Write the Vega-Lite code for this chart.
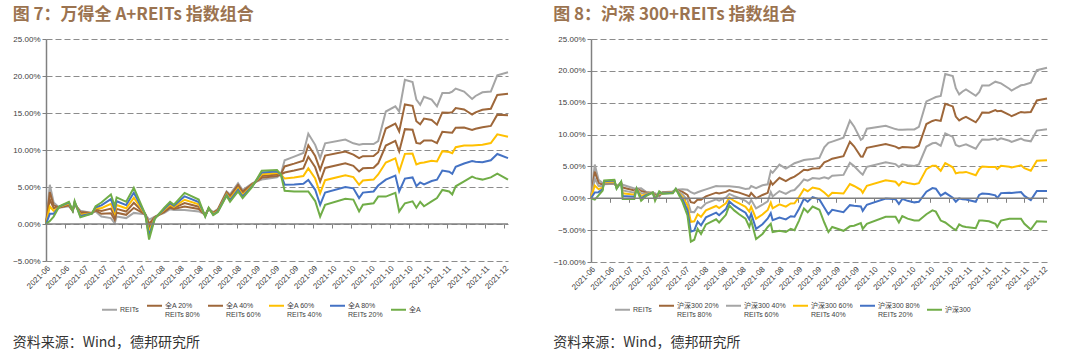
{
  "$schema": "https://vega.github.io/schema/vega-lite/v6.json",
  "background": "white",
  "padding": {"left": 12, "top": 6, "right": 0, "bottom": 0},
  "spacing": 41,
  "resolve": {"scale": {"color": "independent", "y": "independent", "x": "independent"}},
  "config": {
    "view": {"stroke": null},
    "axis": {"labelFont": "Liberation Sans", "labelFontSize": 8, "labelColor": "#404040", "tickColor": "#808080", "domainColor": "#808080", "gridColor": "#8c8c8c", "title": null, "labelOverlap": false},
    "legend": {"labelFont": "Liberation Sans, Noto Sans CJK SC", "labelFontSize": 7, "labelColor": "#404040"}
  },
  "datasets": {
    "n1": [
      {"k": "R", "name": "REITs"},
      {"k": "A20", "name": "全A 20%|REITs 80%"},
      {"k": "A40", "name": "全A 40%|REITs 60%"},
      {"k": "A60", "name": "全A 60%|REITs 40%"},
      {"k": "A80", "name": "全A 80%|REITs 20%"},
      {"k": "A", "name": "全A"}
    ],
    "n2": [
      {"k": "R", "name": "REITs"},
      {"k": "H20", "name": "沪深300 20%|REITs 80%"},
      {"k": "H40", "name": "沪深300 40%|REITs 60%"},
      {"k": "H60", "name": "沪深300 60%|REITs 40%"},
      {"k": "H80", "name": "沪深300 80%|REITs 20%"},
      {"k": "H", "name": "沪深300"}
    ],
    "p1": [
      {"t": 0, "R": 0, "A20": 0, "A40": 0, "A60": 0, "A80": 0, "A": 0},
      {"t": 1, "R": 5.3, "A20": 4.32, "A40": 3.34, "A60": 2.36, "A80": 1.38, "A": 0.4},
      {"t": 2, "R": 2.9, "A20": 2.52, "A40": 2.14, "A60": 1.76, "A80": 1.38, "A": 1.0},
      {"t": 3.5, "R": 2.2, "A20": 2.24, "A40": 2.28, "A60": 2.32, "A80": 2.36, "A": 2.4},
      {"t": 6, "R": 2.4, "A20": 2.52, "A40": 2.64, "A60": 2.76, "A80": 2.88, "A": 3.0},
      {"t": 7, "R": 1.8, "A20": 1.8, "A40": 1.8, "A60": 1.8, "A80": 1.8, "A": 1.8},
      {"t": 7.5, "R": 2.6, "A20": 2.7, "A40": 2.8, "A60": 2.9, "A80": 3.0, "A": 3.1},
      {"t": 9, "R": 1.8, "A20": 1.62, "A40": 1.44, "A60": 1.26, "A80": 1.08, "A": 0.9},
      {"t": 12, "R": 1.5, "A20": 1.48, "A40": 1.46, "A60": 1.44, "A80": 1.42, "A": 1.4},
      {"t": 13, "R": 1.7, "A20": 1.84, "A40": 1.98, "A60": 2.12, "A80": 2.26, "A": 2.4},
      {"t": 14.5, "R": 1.0, "A20": 1.38, "A40": 1.76, "A60": 2.14, "A80": 2.52, "A": 2.9},
      {"t": 17, "R": 0.8, "A20": 1.44, "A40": 2.08, "A60": 2.72, "A80": 3.36, "A": 4.0},
      {"t": 18, "R": 0.1, "A20": 0.56, "A40": 1.02, "A60": 1.48, "A80": 1.94, "A": 2.4},
      {"t": 18.5, "R": 1.0, "A20": 1.52, "A40": 2.04, "A60": 2.56, "A80": 3.08, "A": 3.6},
      {"t": 21, "R": 0.8, "A20": 1.24, "A40": 1.68, "A60": 2.12, "A80": 2.56, "A": 3.0},
      {"t": 23, "R": 1.5, "A20": 2.18, "A40": 2.86, "A60": 3.54, "A80": 4.22, "A": 4.9},
      {"t": 26, "R": 1.3, "A20": 1.3, "A40": 1.3, "A60": 1.3, "A80": 1.3, "A": 1.3},
      {"t": 27, "R": 0.6, "A20": 0.06, "A40": -0.48, "A60": -1.02, "A80": -1.56, "A": -2.1},
      {"t": 28.5, "R": 1.0, "A20": 0.94, "A40": 0.88, "A60": 0.82, "A80": 0.76, "A": 0.7},
      {"t": 31, "R": 1.5, "A20": 1.64, "A40": 1.78, "A60": 1.92, "A80": 2.06, "A": 2.2},
      {"t": 32.5, "R": 2.0, "A20": 2.2, "A40": 2.4, "A60": 2.6, "A80": 2.8, "A": 3.0},
      {"t": 33.5, "R": 1.9, "A20": 2.04, "A40": 2.18, "A60": 2.32, "A80": 2.46, "A": 2.6},
      {"t": 36.3, "R": 1.9, "A20": 2.36, "A40": 2.82, "A60": 3.28, "A80": 3.74, "A": 4.2},
      {"t": 40, "R": 1.7, "A20": 2.02, "A40": 2.34, "A60": 2.66, "A80": 2.98, "A": 3.3},
      {"t": 41.7, "R": 1.3, "A20": 1.24, "A40": 1.18, "A60": 1.12, "A80": 1.06, "A": 1.0},
      {"t": 42.6, "R": 2.0, "A20": 2.04, "A40": 2.08, "A60": 2.12, "A80": 2.16, "A": 2.2},
      {"t": 43.8, "R": 1.6, "A20": 1.52, "A40": 1.44, "A60": 1.36, "A80": 1.28, "A": 1.2},
      {"t": 45, "R": 2.0, "A20": 1.92, "A40": 1.84, "A60": 1.76, "A80": 1.68, "A": 1.6},
      {"t": 47.3, "R": 4.4, "A20": 4.28, "A40": 4.16, "A60": 4.04, "A80": 3.92, "A": 3.8},
      {"t": 48.2, "R": 4.0, "A20": 3.8, "A40": 3.6, "A60": 3.4, "A80": 3.2, "A": 3.0},
      {"t": 50.3, "R": 5.5, "A20": 5.28, "A40": 5.06, "A60": 4.84, "A80": 4.62, "A": 4.4},
      {"t": 51.5, "R": 4.6, "A20": 4.38, "A40": 4.16, "A60": 3.94, "A80": 3.72, "A": 3.5},
      {"t": 54, "R": 5.5, "A20": 5.4, "A40": 5.3, "A60": 5.2, "A80": 5.1, "A": 5.0},
      {"t": 56.5, "R": 6.0, "A20": 6.24, "A40": 6.48, "A60": 6.72, "A80": 6.96, "A": 7.2},
      {"t": 60.5, "R": 6.3, "A20": 6.5, "A40": 6.7, "A60": 6.9, "A80": 7.1, "A": 7.3},
      {"t": 61.5, "R": 6.7, "A20": 6.7, "A40": 6.7, "A60": 6.7, "A80": 6.7, "A": 6.7},
      {"t": 62.5, "R": 8.6, "A20": 7.78, "A40": 6.96, "A60": 6.14, "A80": 5.32, "A": 4.5},
      {"t": 65, "R": 9.1, "A20": 8.16, "A40": 7.22, "A60": 6.28, "A80": 5.34, "A": 4.4},
      {"t": 67.4, "R": 9.6, "A20": 8.56, "A40": 7.52, "A60": 6.48, "A80": 5.44, "A": 4.4},
      {"t": 68.7, "R": 12.2, "A20": 10.64, "A40": 9.08, "A60": 7.52, "A80": 5.96, "A": 4.4},
      {"t": 70.5, "R": 10.7, "A20": 9.18, "A40": 7.66, "A60": 6.14, "A80": 4.62, "A": 3.1},
      {"t": 71.8, "R": 8.9, "A20": 7.32, "A40": 5.74, "A60": 4.16, "A80": 2.58, "A": 1.0},
      {"t": 73.1, "R": 10.9, "A20": 9.24, "A40": 7.58, "A60": 5.92, "A80": 4.26, "A": 2.6},
      {"t": 78.4, "R": 11.4, "A20": 9.8, "A40": 8.2, "A60": 6.6, "A80": 5.0, "A": 3.4},
      {"t": 80.5, "R": 10.9, "A20": 9.38, "A40": 7.86, "A60": 6.34, "A80": 4.82, "A": 3.3},
      {"t": 82, "R": 10.7, "A20": 8.9, "A40": 7.1, "A60": 5.3, "A80": 3.5, "A": 1.7},
      {"t": 83, "R": 10.8, "A20": 9.16, "A40": 7.52, "A60": 5.88, "A80": 4.24, "A": 2.6},
      {"t": 85.8, "R": 10.8, "A20": 9.2, "A40": 7.6, "A60": 6.0, "A80": 4.4, "A": 2.8},
      {"t": 87, "R": 11.2, "A20": 9.7, "A40": 8.2, "A60": 6.7, "A80": 5.2, "A": 3.7},
      {"t": 89, "R": 15.2, "A20": 12.9, "A40": 10.6, "A60": 8.3, "A80": 6.0, "A": 3.7},
      {"t": 91.5, "R": 15.9, "A20": 13.56, "A40": 11.22, "A60": 8.88, "A80": 6.54, "A": 4.2},
      {"t": 92.5, "R": 15.2, "A20": 12.5, "A40": 9.8, "A60": 7.1, "A80": 4.4, "A": 1.7},
      {"t": 94, "R": 19.5, "A20": 16.16, "A40": 12.82, "A60": 9.48, "A80": 6.14, "A": 2.8},
      {"t": 96, "R": 19.2, "A20": 15.97, "A40": 12.74, "A60": 9.52, "A80": 6.29, "A": 3.06},
      {"t": 97, "R": 16.8, "A20": 13.88, "A40": 10.96, "A60": 8.04, "A80": 5.12, "A": 2.2},
      {"t": 98, "R": 16.1, "A20": 13.48, "A40": 10.86, "A60": 8.24, "A80": 5.62, "A": 3.0},
      {"t": 99, "R": 17.2, "A20": 14.24, "A40": 11.28, "A60": 8.32, "A80": 5.36, "A": 2.4},
      {"t": 101, "R": 16.8, "A20": 14.05, "A40": 11.3, "A60": 8.56, "A80": 5.81, "A": 3.06},
      {"t": 102.4, "R": 15.9, "A20": 13.42, "A40": 10.94, "A60": 8.46, "A80": 5.98, "A": 3.5},
      {"t": 103.8, "R": 17.7, "A20": 15.08, "A40": 12.46, "A60": 9.84, "A80": 7.22, "A": 4.6},
      {"t": 105.6, "R": 17.7, "A20": 15.04, "A40": 12.38, "A60": 9.72, "A80": 7.06, "A": 4.4},
      {"t": 106.4, "R": 17.9, "A20": 15.12, "A40": 12.34, "A60": 9.56, "A80": 6.78, "A": 4.0},
      {"t": 107.3, "R": 18.3, "A20": 15.66, "A40": 13.02, "A60": 10.38, "A80": 7.74, "A": 5.1},
      {"t": 109.5, "R": 17.9, "A20": 15.47, "A40": 13.04, "A60": 10.61, "A80": 8.18, "A": 5.75},
      {"t": 111.6, "R": 16.9, "A20": 14.8, "A40": 12.7, "A60": 10.6, "A80": 8.5, "A": 6.4},
      {"t": 112.5, "R": 17.3, "A20": 15.08, "A40": 12.86, "A60": 10.64, "A80": 8.42, "A": 6.2},
      {"t": 114.3, "R": 17.8, "A20": 15.44, "A40": 13.08, "A60": 10.72, "A80": 8.36, "A": 6.0},
      {"t": 116.5, "R": 17.9, "A20": 15.58, "A40": 13.26, "A60": 10.94, "A80": 8.62, "A": 6.3},
      {"t": 118.2, "R": 20.1, "A20": 17.44, "A40": 14.78, "A60": 12.12, "A80": 9.46, "A": 6.8},
      {"t": 121, "R": 20.5, "A20": 17.6, "A40": 14.7, "A60": 11.8, "A80": 8.9, "A": 6.0}
    ],
    "p2": [
      {"t": 0, "R": 0, "H20": 0, "H40": 0, "H60": 0, "H80": 0, "H": 0},
      {"t": 1, "R": 5.3, "H20": 4.2, "H40": 3.1, "H60": 2.0, "H80": 0.9, "H": -0.2},
      {"t": 2, "R": 2.9, "H20": 2.41, "H40": 1.93, "H60": 1.44, "H80": 0.96, "H": 0.47},
      {"t": 3.1, "R": 2.39, "H20": 2.15, "H40": 1.91, "H60": 1.68, "H80": 1.44, "H": 1.2},
      {"t": 3.5, "R": 2.2, "H20": 2.32, "H40": 2.44, "H60": 2.56, "H80": 2.68, "H": 2.8},
      {"t": 6.2, "R": 2.28, "H20": 2.4, "H40": 2.53, "H60": 2.65, "H80": 2.78, "H": 2.9},
      {"t": 6.8, "R": 1.92, "H20": 1.84, "H40": 1.75, "H60": 1.67, "H80": 1.58, "H": 1.5},
      {"t": 8, "R": 2.33, "H20": 2.38, "H40": 2.44, "H60": 2.49, "H80": 2.55, "H": 2.6},
      {"t": 8.4, "R": 2.12, "H20": 1.68, "H40": 1.23, "H60": 0.79, "H80": 0.34, "H": -0.1},
      {"t": 11.5, "R": 1.55, "H20": 1.22, "H40": 0.89, "H60": 0.56, "H80": 0.23, "H": -0.1},
      {"t": 12.1, "R": 1.52, "H20": 1.52, "H40": 1.51, "H60": 1.51, "H80": 1.5, "H": 1.5},
      {"t": 13.3, "R": 1.56, "H20": 1.17, "H40": 0.78, "H60": 0.38, "H80": -0.01, "H": -0.4},
      {"t": 14.7, "R": 0.98, "H20": 0.86, "H40": 0.75, "H60": 0.63, "H80": 0.52, "H": 0.4},
      {"t": 16.4, "R": 0.85, "H20": 0.86, "H40": 0.87, "H60": 0.88, "H80": 0.89, "H": 0.9},
      {"t": 17, "R": 0.8, "H20": 0.56, "H40": 0.32, "H60": 0.08, "H80": -0.16, "H": -0.4},
      {"t": 18.1, "R": 0.28, "H20": 0.44, "H40": 0.61, "H60": 0.77, "H80": 0.94, "H": 1.1},
      {"t": 19, "R": 0.96, "H20": 0.91, "H40": 0.86, "H60": 0.8, "H80": 0.75, "H": 0.7},
      {"t": 21.7, "R": 1.05, "H20": 1.0, "H40": 0.95, "H60": 0.9, "H80": 0.85, "H": 0.8},
      {"t": 22.5, "R": 1.33, "H20": 1.36, "H40": 1.4, "H60": 1.43, "H80": 1.47, "H": 1.5},
      {"t": 24.3, "R": 1.41, "H20": 1.01, "H40": 0.61, "H60": 0.2, "H80": -0.2, "H": -0.6},
      {"t": 25.6, "R": 1.33, "H20": 0.52, "H40": -0.28, "H60": -1.09, "H80": -1.89, "H": -2.7},
      {"t": 26.5, "R": 0.95, "H20": -0.6, "H40": -2.15, "H60": -3.7, "H80": -5.25, "H": -6.8},
      {"t": 27.4, "R": 0.71, "H20": -0.73, "H40": -2.17, "H60": -3.62, "H80": -5.06, "H": -6.5},
      {"t": 28.3, "R": 0.95, "H20": -0.2, "H40": -1.35, "H60": -2.5, "H80": -3.65, "H": -4.8},
      {"t": 29.2, "R": 1.14, "H20": -0.21, "H40": -1.56, "H60": -2.9, "H80": -4.25, "H": -5.6},
      {"t": 30.5, "R": 1.4, "H20": 0.3, "H40": -0.8, "H60": -1.9, "H80": -3.0, "H": -4.1},
      {"t": 33.2, "R": 1.93, "H20": 0.88, "H40": -0.16, "H60": -1.21, "H80": -2.25, "H": -3.3},
      {"t": 34, "R": 1.9, "H20": 0.76, "H40": -0.38, "H60": -1.52, "H80": -2.66, "H": -3.8},
      {"t": 35.8, "R": 1.9, "H20": 1.0, "H40": 0.1, "H60": -0.8, "H80": -1.7, "H": -2.6},
      {"t": 36.7, "R": 1.88, "H20": 1.28, "H40": 0.69, "H60": 0.09, "H80": -0.5, "H": -1.1},
      {"t": 38, "R": 1.81, "H20": 1.07, "H40": 0.33, "H60": -0.42, "H80": -1.16, "H": -1.9},
      {"t": 39.3, "R": 1.74, "H20": 0.89, "H40": 0.04, "H60": -0.8, "H80": -1.65, "H": -2.5},
      {"t": 41, "R": 1.46, "H20": 0.53, "H40": -0.4, "H60": -1.34, "H80": -2.27, "H": -3.2},
      {"t": 42, "R": 1.53, "H20": 0.32, "H40": -0.88, "H60": -2.09, "H80": -3.29, "H": -4.5},
      {"t": 42.5, "R": 1.92, "H20": 0.84, "H40": -0.25, "H60": -1.33, "H80": -2.42, "H": -3.5},
      {"t": 43.8, "R": 1.6, "H20": 0.0, "H40": -1.6, "H60": -3.2, "H80": -4.8, "H": -6.4},
      {"t": 45.5, "R": 2.05, "H20": 0.52, "H40": -1.01, "H60": -2.54, "H80": -4.07, "H": -5.6},
      {"t": 46.9, "R": 2.2, "H20": 0.86, "H40": -0.48, "H60": -1.82, "H80": -3.16, "H": -4.5},
      {"t": 47.7, "R": 4.3, "H20": 2.64, "H40": 0.98, "H60": -0.68, "H80": -2.34, "H": -4.0},
      {"t": 48.2, "R": 4.0, "H20": 2.14, "H40": 0.28, "H60": -1.58, "H80": -3.44, "H": -5.3},
      {"t": 50, "R": 5.29, "H20": 3.21, "H40": 1.13, "H60": -0.94, "H80": -3.02, "H": -5.1},
      {"t": 51.7, "R": 4.67, "H20": 2.68, "H40": 0.68, "H60": -1.31, "H80": -3.31, "H": -5.3},
      {"t": 53, "R": 5.14, "H20": 3.15, "H40": 1.16, "H60": -0.82, "H80": -2.81, "H": -4.8},
      {"t": 54, "R": 5.5, "H20": 3.4, "H40": 1.3, "H60": -0.8, "H80": -2.9, "H": -5.0},
      {"t": 55.2, "R": 5.74, "H20": 3.89, "H40": 2.04, "H60": 0.2, "H80": -1.65, "H": -3.5},
      {"t": 56.5, "R": 6.0, "H20": 4.48, "H40": 2.96, "H60": 1.44, "H80": -0.08, "H": -1.6},
      {"t": 57.5, "R": 6.08, "H20": 4.42, "H40": 2.77, "H60": 1.11, "H80": -0.54, "H": -2.2},
      {"t": 58.8, "R": 6.17, "H20": 4.68, "H40": 3.18, "H60": 1.69, "H80": 0.19, "H": -1.3},
      {"t": 60.6, "R": 6.34, "H20": 4.71, "H40": 3.08, "H60": 1.46, "H80": -0.17, "H": -1.8},
      {"t": 61.9, "R": 8.0, "H20": 5.64, "H40": 3.28, "H60": 0.92, "H80": -1.44, "H": -3.8},
      {"t": 63, "R": 8.7, "H20": 5.9, "H40": 3.1, "H60": 0.3, "H80": -2.5, "H": -5.3},
      {"t": 64, "R": 8.9, "H20": 6.22, "H40": 3.54, "H60": 0.86, "H80": -1.82, "H": -4.5},
      {"t": 67, "R": 9.52, "H20": 6.6, "H40": 3.67, "H60": 0.75, "H80": -2.18, "H": -5.1},
      {"t": 68.7, "R": 12.2, "H20": 8.88, "H40": 5.56, "H60": 2.24, "H80": -1.08, "H": -4.4},
      {"t": 69.8, "R": 11.28, "H20": 8.16, "H40": 5.05, "H60": 1.93, "H80": -1.18, "H": -4.3},
      {"t": 71.6, "R": 9.18, "H20": 6.56, "H40": 3.95, "H60": 1.33, "H80": -1.28, "H": -3.9},
      {"t": 72.1, "R": 9.36, "H20": 6.53, "H40": 3.7, "H60": 0.86, "H80": -1.97, "H": -4.8},
      {"t": 73.2, "R": 10.91, "H20": 7.93, "H40": 4.95, "H60": 1.96, "H80": -1.02, "H": -4.0},
      {"t": 78.2, "R": 11.38, "H20": 8.52, "H40": 5.67, "H60": 2.81, "H80": -0.04, "H": -2.9},
      {"t": 80.8, "R": 10.86, "H20": 8.11, "H40": 5.36, "H60": 2.6, "H80": -0.15, "H": -2.9},
      {"t": 81.7, "R": 10.74, "H20": 7.83, "H40": 4.92, "H60": 2.02, "H80": -0.89, "H": -3.8},
      {"t": 82.6, "R": 10.76, "H20": 8.05, "H40": 5.34, "H60": 2.62, "H80": -0.09, "H": -2.8},
      {"t": 84, "R": 10.8, "H20": 8.0, "H40": 5.2, "H60": 2.4, "H80": -0.4, "H": -3.2},
      {"t": 85.8, "R": 10.8, "H20": 7.94, "H40": 5.08, "H60": 2.22, "H80": -0.64, "H": -3.5},
      {"t": 87, "R": 11.2, "H20": 8.26, "H40": 5.32, "H60": 2.38, "H80": -0.56, "H": -3.5},
      {"t": 89, "R": 15.2, "H20": 11.66, "H40": 8.12, "H60": 4.58, "H80": 1.04, "H": -2.5},
      {"t": 90.6, "R": 15.65, "H20": 12.14, "H40": 8.63, "H60": 5.12, "H80": 1.61, "H": -1.9},
      {"t": 91.5, "R": 15.9, "H20": 12.3, "H40": 8.7, "H60": 5.1, "H80": 1.5, "H": -2.1},
      {"t": 92.8, "R": 16.06, "H20": 12.15, "H40": 8.24, "H60": 4.32, "H80": 0.41, "H": -3.5},
      {"t": 94, "R": 19.5, "H20": 14.84, "H40": 10.18, "H60": 5.52, "H80": 0.86, "H": -3.8},
      {"t": 96, "R": 19.2, "H20": 14.42, "H40": 9.64, "H60": 4.86, "H80": 0.08, "H": -4.7},
      {"t": 96.8, "R": 17.28, "H20": 12.82, "H40": 8.37, "H60": 3.91, "H80": -0.54, "H": -5.0},
      {"t": 97.7, "R": 16.31, "H20": 12.23, "H40": 8.15, "H60": 4.06, "H80": -0.02, "H": -4.1},
      {"t": 98.6, "R": 16.76, "H20": 12.53, "H40": 8.3, "H60": 4.06, "H80": -0.17, "H": -4.4},
      {"t": 99.5, "R": 17.1, "H20": 12.78, "H40": 8.46, "H60": 4.14, "H80": -0.18, "H": -4.5},
      {"t": 102.1, "R": 16.09, "H20": 11.93, "H40": 7.77, "H60": 3.61, "H80": -0.54, "H": -4.7},
      {"t": 103, "R": 16.67, "H20": 12.64, "H40": 8.6, "H60": 4.57, "H80": 0.53, "H": -3.5},
      {"t": 103.8, "R": 17.7, "H20": 13.46, "H40": 9.22, "H60": 4.98, "H80": 0.74, "H": -3.5},
      {"t": 105.6, "R": 17.7, "H20": 13.44, "H40": 9.18, "H60": 4.92, "H80": 0.66, "H": -3.6},
      {"t": 107.3, "R": 18.3, "H20": 13.84, "H40": 9.38, "H60": 4.92, "H80": 0.46, "H": -4.0},
      {"t": 107.8, "R": 18.21, "H20": 13.67, "H40": 9.13, "H60": 4.58, "H80": 0.04, "H": -4.5},
      {"t": 108.8, "R": 18.03, "H20": 13.72, "H40": 9.42, "H60": 5.11, "H80": 0.81, "H": -3.5},
      {"t": 111, "R": 17.19, "H20": 13.11, "H40": 9.03, "H60": 4.96, "H80": 0.88, "H": -3.2},
      {"t": 111.6, "R": 16.9, "H20": 12.88, "H40": 8.86, "H60": 4.84, "H80": 0.82, "H": -3.2},
      {"t": 114.1, "R": 17.74, "H20": 13.55, "H40": 9.36, "H60": 5.18, "H80": 0.99, "H": -3.2},
      {"t": 115, "R": 17.83, "H20": 13.46, "H40": 9.1, "H60": 4.73, "H80": 0.37, "H": -4.0},
      {"t": 116.7, "R": 18.16, "H20": 13.55, "H40": 8.94, "H60": 4.32, "H80": -0.29, "H": -4.9},
      {"t": 118.3, "R": 20.1, "H20": 15.36, "H40": 10.62, "H60": 5.88, "H80": 1.14, "H": -3.6},
      {"t": 121, "R": 20.5, "H20": 15.66, "H40": 10.82, "H60": 5.98, "H80": 1.14, "H": -3.7}
    ]
  },
  "hconcat": [
    {
      "title": {"text": "资料来源：Wind，德邦研究所", "orient": "bottom", "anchor": "start", "font": "Noto Sans CJK SC", "fontSize": 14, "fontWeight": "normal", "color": "#333333", "offset": 18},
      "vconcat": [
        {
          "title": {"text": "图 7：万得全 A+REITs 指数组合", "anchor": "start", "frame": "bounds", "font": "Noto Sans CJK SC", "fontSize": 17, "fontWeight": "bold", "color": "#9b7350", "offset": 11},
          "width": 462,
          "height": 222,
          "data": {"name": "p1"},
          "resolve": {"axis": {"x": "independent", "y": "independent"}},
          "layer": [
            {
              "transform": [
                {"fold": ["R", "A20", "A40", "A60", "A80", "A"], "as": ["k", "v"]},
                {"lookup": "k", "from": {"data": {"name": "n1"}, "key": "k", "fields": ["name"]}}
              ],
              "mark": {"type": "line", "strokeWidth": 2},
              "encoding": {
                "x": {"field": "t", "type": "quantitative", "scale": {"domain": [0, 121], "nice": false, "zero": false},
                  "axis": {"orient": "bottom", "values": [0,5,10,15,20,25,30,35,40,45,50,55,60,65,70,75,80,85,90,95,100,105,110,115,120], "labelExpr": "['2021-06','2021-06','2021-07','2021-07','2021-07','2021-07','2021-08','2021-08','2021-08','2021-08','2021-08','2021-09','2021-09','2021-09','2021-09','2021-10','2021-10','2021-10','2021-10','2021-10','2021-11','2021-11','2021-11','2021-11','2021-12'][round(datum.value/5)]", "labelAngle": -45, "labelPadding": 3, "ticks": false, "domain": false, "grid": false, "labelOverlap": false, "labelBound": false}},
                "y": {"field": "v", "type": "quantitative", "scale": {"domain": [-5, 25], "nice": false},
                  "axis": {"orient": "left", "values": [-5, 0, 5, 10, 15, 20, 25], "labelExpr": "format(datum.value, '.2f') + '%'", "labelOverlap": false, "grid": true, "gridDash": [6, 3], "gridWidth": 1.2, "tickSize": 4, "labelPadding": 2, "domain": true, "domainWidth": 1.5}},
                "color": {"field": "name", "type": "nominal",
                  "scale": {"domain": ["REITs", "全A 20%|REITs 80%", "全A 40%|REITs 60%", "全A 60%|REITs 40%", "全A 80%|REITs 20%", "全A"], "range": ["#a5a5a5", "#9e673a", "#9e673a", "#ffc000", "#4472c4", "#70ad47"]},
                  "legend": {"orient": "none", "legendX": 55, "legendY": 258, "direction": "horizontal", "title": null, "symbolType": "stroke", "symbolSize": 225, "symbolStrokeWidth": 2, "labelExpr": "split(datum.label, '|')", "columnPadding": 4, "labelOffset": 2}}
              }
            },
            {
              "mark": {"type": "rule", "color": "#808080", "strokeWidth": 1.5},
              "encoding": {
                "x": {"aggregate": "min", "field": "t", "type": "quantitative",
                  "axis": {"orient": "bottom", "offset": -37, "values": [0,5,10,15,20,25,30,35,40,45,50,55,60,65,70,75,80,85,90,95,100,105,110,115,120], "labels": false, "ticks": true, "tickSize": 4, "domain": false, "grid": false}},
                "x2": {"aggregate": "max", "field": "t"},
                "y": {"datum": 0, "type": "quantitative", "axis": null}
              }
            }
          ]
        }
      ]
    },
    {
      "title": {"text": "资料来源：Wind，德邦研究所", "orient": "bottom", "anchor": "start", "font": "Noto Sans CJK SC", "fontSize": 14, "fontWeight": "normal", "color": "#333333", "offset": 18},
      "vconcat": [
        {
          "title": {"text": "图 8：沪深 300+REITs 指数组合", "anchor": "start", "frame": "bounds", "font": "Noto Sans CJK SC", "fontSize": 17, "fontWeight": "bold", "color": "#9b7350", "offset": 11},
          "width": 456,
          "height": 223,
          "data": {"name": "p2"},
          "resolve": {"axis": {"x": "independent", "y": "independent"}},
          "layer": [
            {
              "transform": [
                {"fold": ["R", "H20", "H40", "H60", "H80", "H"], "as": ["k", "v"]},
                {"lookup": "k", "from": {"data": {"name": "n2"}, "key": "k", "fields": ["name"]}}
              ],
              "mark": {"type": "line", "strokeWidth": 2},
              "encoding": {
                "x": {"field": "t", "type": "quantitative", "scale": {"domain": [0, 121], "nice": false, "zero": false},
                  "axis": {"orient": "bottom", "values": [0,5,10,15,20,25,30,35,40,45,50,55,60,65,70,75,80,85,90,95,100,105,110,115,120], "labelExpr": "['2021-06','2021-06','2021-07','2021-07','2021-07','2021-07','2021-08','2021-08','2021-08','2021-08','2021-08','2021-09','2021-09','2021-09','2021-09','2021-10','2021-10','2021-10','2021-10','2021-10','2021-11','2021-11','2021-11','2021-11','2021-12'][round(datum.value/5)]", "labelAngle": -45, "labelPadding": 3, "ticks": false, "domain": false, "grid": false, "labelOverlap": false, "labelBound": false}},
                "y": {"field": "v", "type": "quantitative", "scale": {"domain": [-10, 25], "nice": false},
                  "axis": {"orient": "left", "values": [-10, -5, 0, 5, 10, 15, 20, 25], "labelExpr": "format(datum.value, '.2f') + '%'", "labelOverlap": false, "grid": true, "gridDash": [6, 3], "gridWidth": 1.2, "tickSize": 4, "labelPadding": 2, "domain": true, "domainWidth": 1.5}},
                "color": {"field": "name", "type": "nominal",
                  "scale": {"domain": ["REITs", "沪深300 20%|REITs 80%", "沪深300 40%|REITs 60%", "沪深300 60%|REITs 40%", "沪深300 80%|REITs 20%", "沪深300"], "range": ["#a5a5a5", "#9e673a", "#a5a5a5", "#ffc000", "#4472c4", "#70ad47"]},
                  "legend": {"orient": "none", "legendX": 23, "legendY": 258, "direction": "horizontal", "title": null, "symbolType": "stroke", "symbolSize": 225, "symbolStrokeWidth": 2, "labelExpr": "split(datum.label, '|')", "columnPadding": 3, "labelOffset": 2}}
              }
            },
            {
              "mark": {"type": "rule", "color": "#808080", "strokeWidth": 1.5},
              "encoding": {
                "x": {"aggregate": "min", "field": "t", "type": "quantitative",
                  "axis": {"orient": "bottom", "offset": -63.7, "values": [0,5,10,15,20,25,30,35,40,45,50,55,60,65,70,75,80,85,90,95,100,105,110,115,120], "labels": false, "ticks": true, "tickSize": 4, "domain": false, "grid": false}},
                "x2": {"aggregate": "max", "field": "t"},
                "y": {"datum": 0, "type": "quantitative", "axis": null}
              }
            }
          ]
        }
      ]
    }
  ]
}
